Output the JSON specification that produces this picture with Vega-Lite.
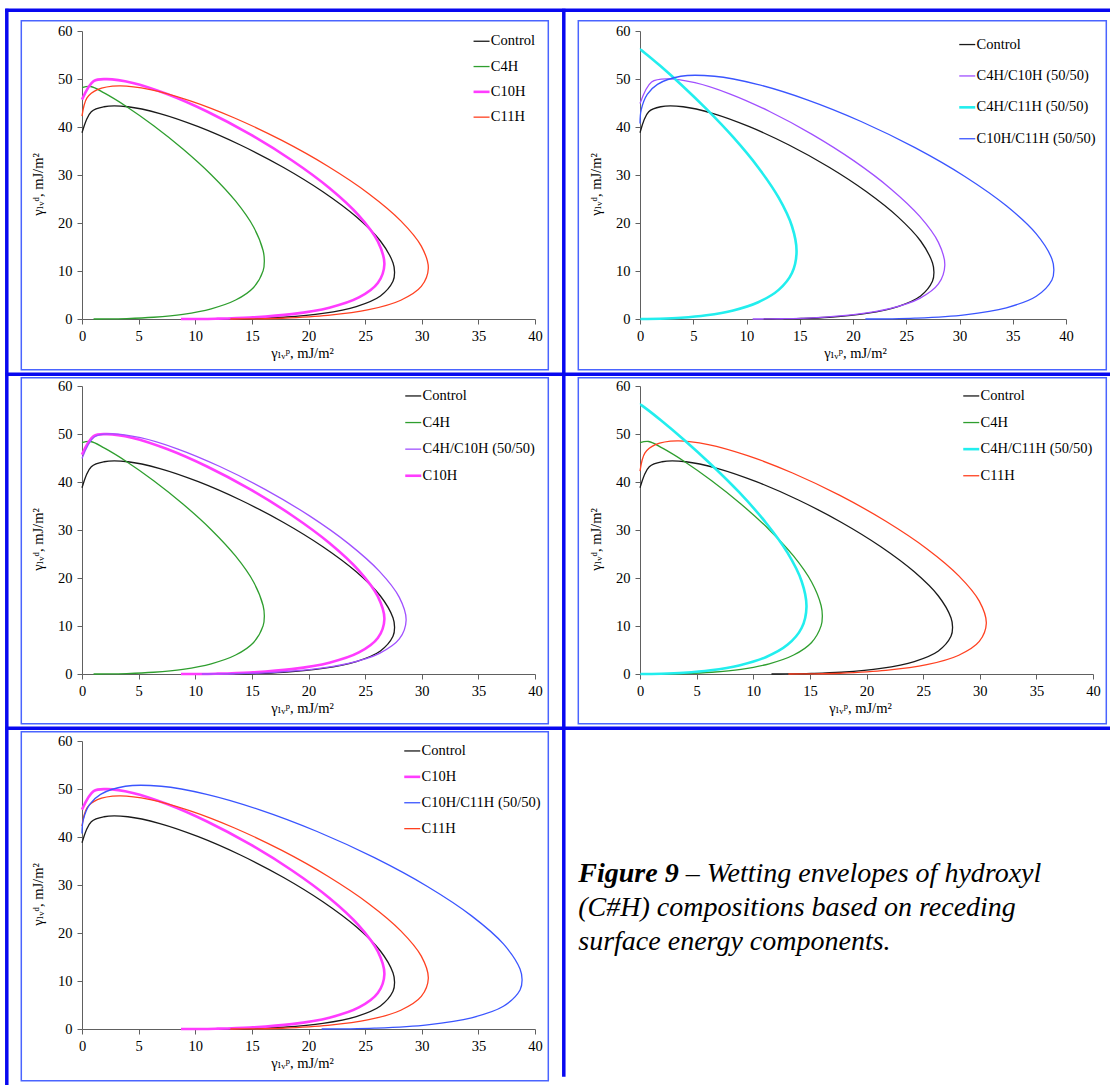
{
  "$schema": "https://vega.github.io/schema/vega-lite/v6.json",
  "background": "white",
  "padding": 0,
  "autosize": {"type": "pad"},
  "datasets": {
    "env": [
      {"s":"Control","i":0,"x":0,"y":38.8},{"s":"Control","i":1,"x":0.82,"y":43.19},{"s":"Control","i":2,"x":1.95,"y":44.22},{"s":"Control","i":3,"x":4.05,"y":44.22},{"s":"Control","i":4,"x":6.88,"y":42.8},{"s":"Control","i":5,"x":10.27,"y":40.07},{"s":"Control","i":6,"x":13.99,"y":36.25},{"s":"Control","i":7,"x":17.76,"y":31.62},{"s":"Control","i":8,"x":21.27,"y":26.51},{"s":"Control","i":9,"x":24.22,"y":21.28},{"s":"Control","i":10,"x":26.35,"y":16.25},{"s":"Control","i":11,"x":27.46,"y":11.71},{"s":"Control","i":12,"x":27.6,"y":9.69},{"s":"Control","i":13,"x":27.46,"y":7.86},{"s":"Control","i":14,"x":26.35,"y":4.81},{"s":"Control","i":15,"x":24.22,"y":2.6},{"s":"Control","i":16,"x":21.27,"y":1.16},{"s":"Control","i":17,"x":17.76,"y":0.36},{"s":"Control","i":18,"x":15.13,"y":0.1},{"s":"Control","i":19,"x":12.85,"y":0.01},{"s":"Control","i":20,"x":11.61,"y":0},
      {"s":"C4H","i":0,"x":0,"y":48.19},{"s":"C4H","i":1,"x":0.76,"y":48.44},{"s":"C4H","i":2,"x":1.99,"y":47.05},{"s":"C4H","i":3,"x":3.95,"y":44.23},{"s":"C4H","i":4,"x":6.33,"y":40.26},{"s":"C4H","i":5,"x":8.91,"y":35.42},{"s":"C4H","i":6,"x":11.41,"y":30.07},{"s":"C4H","i":7,"x":13.57,"y":24.54},{"s":"C4H","i":8,"x":15.15,"y":19.17},{"s":"C4H","i":9,"x":15.99,"y":14.27},{"s":"C4H","i":10,"x":16.1,"y":12.05},{"s":"C4H","i":11,"x":15.99,"y":10.02},{"s":"C4H","i":12,"x":15.15,"y":6.57},{"s":"C4H","i":13,"x":13.57,"y":3.95},{"s":"C4H","i":14,"x":11.41,"y":2.13},{"s":"C4H","i":15,"x":8.91,"y":0.98},{"s":"C4H","i":16,"x":6.33,"y":0.36},{"s":"C4H","i":17,"x":3.95,"y":0.085},{"s":"C4H","i":18,"x":1.99,"y":0.007},{"s":"C4H","i":19,"x":1.02,"y":0},
      {"s":"C10H","i":0,"x":0,"y":45.7},{"s":"C10H","i":1,"x":1.03,"y":49.56},{"s":"C10H","i":2,"x":2.19,"y":49.97},{"s":"C10H","i":3,"x":4.49,"y":49.18},{"s":"C10H","i":4,"x":7.51,"y":46.87},{"s":"C10H","i":5,"x":11.04,"y":43.23},{"s":"C10H","i":6,"x":14.82,"y":38.51},{"s":"C10H","i":7,"x":18.52,"y":33.08},{"s":"C10H","i":8,"x":21.84,"y":27.3},{"s":"C10H","i":9,"x":24.45,"y":21.55},{"s":"C10H","i":10,"x":26.12,"y":16.16},{"s":"C10H","i":11,"x":26.7,"y":11.42},{"s":"C10H","i":12,"x":26.12,"y":7.5},{"s":"C10H","i":13,"x":24.45,"y":4.49},{"s":"C10H","i":14,"x":21.84,"y":2.36},{"s":"C10H","i":15,"x":18.52,"y":1.02},{"s":"C10H","i":16,"x":14.82,"y":0.31},{"s":"C10H","i":17,"x":11.79,"y":0.063},{"s":"C10H","i":18,"x":9.94,"y":0.009},{"s":"C10H","i":19,"x":8.74,"y":0},
      {"s":"C11H","i":0,"x":0,"y":42.25},{"s":"C11H","i":1,"x":0.44,"y":46.08},{"s":"C11H","i":2,"x":1.36,"y":47.8},{"s":"C11H","i":3,"x":3.28,"y":48.58},{"s":"C11H","i":4,"x":6.03,"y":47.8},{"s":"C11H","i":5,"x":9.5,"y":45.5},{"s":"C11H","i":6,"x":13.47,"y":41.88},{"s":"C11H","i":7,"x":17.65,"y":37.2},{"s":"C11H","i":8,"x":21.71,"y":31.82},{"s":"C11H","i":9,"x":25.32,"y":26.11},{"s":"C11H","i":10,"x":28.15,"y":20.45},{"s":"C11H","i":11,"x":29.96,"y":15.18},{"s":"C11H","i":12,"x":30.58,"y":10.56},{"s":"C11H","i":13,"x":29.96,"y":6.78},{"s":"C11H","i":14,"x":28.15,"y":3.91},{"s":"C11H","i":15,"x":25.32,"y":1.93},{"s":"C11H","i":16,"x":21.71,"y":0.74},{"s":"C11H","i":17,"x":17.65,"y":0.16},{"s":"C11H","i":18,"x":15.13,"y":0.028},{"s":"C11H","i":19,"x":13.1,"y":0},
      {"s":"C4H/C10H (50/50)","i":0,"x":0,"y":44.89},{"s":"C4H/C10H (50/50)","i":1,"x":1.09,"y":49.39},{"s":"C4H/C10H (50/50)","i":2,"x":2.64,"y":50.04},{"s":"C4H/C10H (50/50)","i":3,"x":5.16,"y":49.24},{"s":"C4H/C10H (50/50)","i":4,"x":8.41,"y":46.92},{"s":"C4H/C10H (50/50)","i":5,"x":12.17,"y":43.23},{"s":"C4H/C10H (50/50)","i":6,"x":16.16,"y":38.47},{"s":"C4H/C10H (50/50)","i":7,"x":20.06,"y":32.99},{"s":"C4H/C10H (50/50)","i":8,"x":23.53,"y":27.16},{"s":"C4H/C10H (50/50)","i":9,"x":26.27,"y":21.38},{"s":"C4H/C10H (50/50)","i":10,"x":28.02,"y":15.97},{"s":"C4H/C10H (50/50)","i":11,"x":28.62,"y":11.22},{"s":"C4H/C10H (50/50)","i":12,"x":28.02,"y":7.31},{"s":"C4H/C10H (50/50)","i":13,"x":26.27,"y":4.31},{"s":"C4H/C10H (50/50)","i":14,"x":23.53,"y":2.21},{"s":"C4H/C10H (50/50)","i":15,"x":20.06,"y":0.91},{"s":"C4H/C10H (50/50)","i":16,"x":16.16,"y":0.25},{"s":"C4H/C10H (50/50)","i":17,"x":13.35,"y":0.051},{"s":"C4H/C10H (50/50)","i":18,"x":11.39,"y":0.004},{"s":"C4H/C10H (50/50)","i":19,"x":10.58,"y":0},
      {"s":"C4H/C11H (50/50)","i":0,"x":0,"y":56.1},{"s":"C4H/C11H (50/50)","i":1,"x":0.05,"y":56.1},{"s":"C4H/C11H (50/50)","i":2,"x":0.54,"y":55.28},{"s":"C4H/C11H (50/50)","i":3,"x":1.87,"y":52.8},{"s":"C4H/C11H (50/50)","i":4,"x":3.85,"y":48.86},{"s":"C4H/C11H (50/50)","i":5,"x":6.23,"y":43.76},{"s":"C4H/C11H (50/50)","i":6,"x":8.75,"y":37.87},{"s":"C4H/C11H (50/50)","i":7,"x":11.1,"y":31.57},{"s":"C4H/C11H (50/50)","i":8,"x":13.02,"y":25.27},{"s":"C4H/C11H (50/50)","i":9,"x":14.27,"y":19.32},{"s":"C4H/C11H (50/50)","i":10,"x":14.7,"y":14.03},{"s":"C4H/C11H (50/50)","i":11,"x":14.27,"y":9.58},{"s":"C4H/C11H (50/50)","i":12,"x":13.02,"y":6.07},{"s":"C4H/C11H (50/50)","i":13,"x":11.1,"y":3.5},{"s":"C4H/C11H (50/50)","i":14,"x":8.75,"y":1.79},{"s":"C4H/C11H (50/50)","i":15,"x":6.23,"y":0.77},{"s":"C4H/C11H (50/50)","i":16,"x":3.85,"y":0.25},{"s":"C4H/C11H (50/50)","i":17,"x":1.87,"y":0.05},{"s":"C4H/C11H (50/50)","i":18,"x":0.54,"y":0.003},{"s":"C4H/C11H (50/50)","i":19,"x":0.03,"y":0},
      {"s":"C10H/C11H (50/50)","i":0,"x":0,"y":40.75},{"s":"C10H/C11H (50/50)","i":1,"x":0.11,"y":43.55},{"s":"C10H/C11H (50/50)","i":2,"x":0.68,"y":46.78},{"s":"C10H/C11H (50/50)","i":3,"x":1.64,"y":48.89},{"s":"C10H/C11H (50/50)","i":4,"x":3.83,"y":50.57},{"s":"C10H/C11H (50/50)","i":5,"x":6.99,"y":50.57},{"s":"C10H/C11H (50/50)","i":6,"x":11.01,"y":48.89},{"s":"C10H/C11H (50/50)","i":7,"x":15.7,"y":45.66},{"s":"C10H/C11H (50/50)","i":8,"x":20.76,"y":41.15},{"s":"C10H/C11H (50/50)","i":9,"x":25.82,"y":35.69},{"s":"C10H/C11H (50/50)","i":10,"x":30.5,"y":29.69},{"s":"C10H/C11H (50/50)","i":11,"x":34.4,"y":23.57},{"s":"C10H/C11H (50/50)","i":12,"x":37.21,"y":17.72},{"s":"C10H/C11H (50/50)","i":13,"x":38.68,"y":12.5},{"s":"C10H/C11H (50/50)","i":14,"x":38.86,"y":10.19},{"s":"C10H/C11H (50/50)","i":15,"x":38.68,"y":8.12},{"s":"C10H/C11H (50/50)","i":16,"x":37.21,"y":4.73},{"s":"C10H/C11H (50/50)","i":17,"x":34.4,"y":2.34},{"s":"C10H/C11H (50/50)","i":18,"x":30.5,"y":0.88},{"s":"C10H/C11H (50/50)","i":19,"x":25.82,"y":0.17},{"s":"C10H/C11H (50/50)","i":20,"x":23.32,"y":0.032},{"s":"C10H/C11H (50/50)","i":21,"x":21.16,"y":0}
    ]
  },
  "columns": 2,
  "bounds": "flush",
  "spacing": {"row": 67, "column": 105},
  "resolve": {"scale": {"color": "independent"}},
  "concat": [
    {
      "width": 453, "height": 288,
      "layer": [
        {"data": {"values": [{}]}, "mark": {"type": "rect", "fill": "#ffffff", "fillOpacity": 0}, "encoding": {"x": {"value": -81.7}, "x2": {"value": 1028.3}, "y": {"value": -30.3}, "y2": {"value": 1054.7}}},
        {"data": {"values": [{}]}, "mark": {"type": "rule", "color": "#0808f0", "strokeWidth": 3.5}, "encoding": {"x": {"value": -76.7}, "x2": {"value": 1028.3}, "y": {"value": -20.8}}},
        {"data": {"values": [{}]}, "mark": {"type": "rule", "color": "#0808f0", "strokeWidth": 3.5}, "encoding": {"x": {"value": -76.7}, "x2": {"value": 1028.3}, "y": {"value": 343.2}}},
        {"data": {"values": [{}]}, "mark": {"type": "rule", "color": "#0808f0", "strokeWidth": 3.5}, "encoding": {"x": {"value": -76.7}, "x2": {"value": 1028.3}, "y": {"value": 697.2}}},
        {"data": {"values": [{}]}, "mark": {"type": "rule", "color": "#0808f0", "strokeWidth": 3.5}, "encoding": {"x": {"value": -75.2}, "y": {"value": -22.3}, "y2": {"value": 1054.7}}},
        {"data": {"values": [{}]}, "mark": {"type": "rule", "color": "#0808f0", "strokeWidth": 3.5}, "encoding": {"x": {"value": 481.8}, "y": {"value": -22.3}, "y2": {"value": 1045.7}}},
        {"data": {"values": [{}]}, "mark": {"type": "rect", "filled": false, "color": "#4a64ff", "strokeWidth": 1.5}, "encoding": {"x": {"value": -60.7}, "x2": {"value": 466.3}, "y": {"value": -10.3}, "y2": {"value": 338.7}}},
        {
          "data": {"name": "env"},
          "transform": [{"filter": {"field": "s", "oneOf": ["Control", "C4H", "C10H", "C11H"]}}],
          "mark": {"type": "line", "interpolate": "catmull-rom", "strokeJoin": "round"},
          "encoding": {
            "x": {"field": "x", "type": "quantitative", "scale": {"domain": [0, 40], "nice": false}, "axis": {"values": [0,5,10,15,20,25,30,35,40], "title": "γₗᵥᵖ, mJ/m²"}},
            "y": {"field": "y", "type": "quantitative", "scale": {"domain": [0, 60], "nice": false}, "axis": {"values": [0,10,20,30,40,50,60], "title": "γₗᵥᵈ, mJ/m²"}},
            "order": {"field": "i", "type": "quantitative"},
            "color": {"field": "s", "type": "nominal", "scale": {"domain": ["Control", "C4H", "C10H", "C11H"], "range": ["#1a1a1a", "#2e9e2e", "#ff3cff", "#ff4020"]}, "legend": {"legendX": 392.3, "legendY": 3, "rowPadding": 10.3, "encode": {"symbols": {"update": {"strokeWidth": {"signal": "datum.value === 'C10H' || datum.value === 'C4H/C11H (50/50)' ? 2.6 : 1.3"}}}}}},
            "strokeWidth": {"condition": {"test": "datum.s === 'C10H' || datum.s === 'C4H/C11H (50/50)'", "value": 2.6}, "value": 1.3}
          }
        }
      ]
    },
    {
      "width": 426, "height": 288,
      "layer": [
        {"data": {"values": [{}]}, "mark": {"type": "rect", "filled": false, "color": "#4a64ff", "strokeWidth": 1.5}, "encoding": {"x": {"value": -61.7}, "x2": {"value": 466.3}, "y": {"value": -10.3}, "y2": {"value": 338.7}}},
        {
          "data": {"name": "env"},
          "transform": [{"filter": {"field": "s", "oneOf": ["Control", "C4H/C10H (50/50)", "C4H/C11H (50/50)", "C10H/C11H (50/50)"]}}],
          "mark": {"type": "line", "interpolate": "catmull-rom", "strokeJoin": "round"},
          "encoding": {
            "x": {"field": "x", "type": "quantitative", "scale": {"domain": [0, 40], "nice": false}, "axis": {"values": [0,5,10,15,20,25,30,35,40], "title": "γₗᵥᵖ, mJ/m²", "titleX": 215}},
            "y": {"field": "y", "type": "quantitative", "scale": {"domain": [0, 60], "nice": false}, "axis": {"values": [0,10,20,30,40,50,60], "title": "γₗᵥᵈ, mJ/m²"}},
            "order": {"field": "i", "type": "quantitative"},
            "color": {"field": "s", "type": "nominal", "scale": {"domain": ["Control", "C4H/C10H (50/50)", "C4H/C11H (50/50)", "C10H/C11H (50/50)"], "range": ["#1a1a1a", "#a050ff", "#22eeee", "#3a55ff"]}, "legend": {"legendX": 320, "legendY": 6.3, "rowPadding": 16.4, "encode": {"symbols": {"update": {"strokeWidth": {"signal": "datum.value === 'C10H' || datum.value === 'C4H/C11H (50/50)' ? 2.6 : 1.3"}}}}}},
            "strokeWidth": {"condition": {"test": "datum.s === 'C10H' || datum.s === 'C4H/C11H (50/50)'", "value": 2.6}, "value": 1.3}
          }
        }
      ]
    },
    {
      "width": 453, "height": 288,
      "layer": [
        {"data": {"values": [{}]}, "mark": {"type": "rect", "filled": false, "color": "#4a64ff", "strokeWidth": 1.5}, "encoding": {"x": {"value": -60.7}, "x2": {"value": 466.3}, "y": {"value": -8.3}, "y2": {"value": 337.7}}},
        {
          "data": {"name": "env"},
          "transform": [{"filter": {"field": "s", "oneOf": ["Control", "C4H", "C4H/C10H (50/50)", "C10H"]}}],
          "mark": {"type": "line", "interpolate": "catmull-rom", "strokeJoin": "round"},
          "encoding": {
            "x": {"field": "x", "type": "quantitative", "scale": {"domain": [0, 40], "nice": false}, "axis": {"values": [0,5,10,15,20,25,30,35,40], "title": "γₗᵥᵖ, mJ/m²"}},
            "y": {"field": "y", "type": "quantitative", "scale": {"domain": [0, 60], "nice": false}, "axis": {"values": [0,10,20,30,40,50,60], "title": "γₗᵥᵈ, mJ/m²"}},
            "order": {"field": "i", "type": "quantitative"},
            "color": {"field": "s", "type": "nominal", "scale": {"domain": ["Control", "C4H", "C4H/C10H (50/50)", "C10H"], "range": ["#1a1a1a", "#2e9e2e", "#a050ff", "#ff3cff"]}, "legend": {"legendX": 324, "legendY": 2.7, "rowPadding": 11.6, "encode": {"symbols": {"update": {"strokeWidth": {"signal": "datum.value === 'C10H' || datum.value === 'C4H/C11H (50/50)' ? 2.6 : 1.3"}}}}}},
            "strokeWidth": {"condition": {"test": "datum.s === 'C10H' || datum.s === 'C4H/C11H (50/50)'", "value": 2.6}, "value": 1.3}
          }
        }
      ]
    },
    {
      "width": 453, "height": 288,
      "layer": [
        {"data": {"values": [{}]}, "mark": {"type": "rect", "filled": false, "color": "#4a64ff", "strokeWidth": 1.5}, "encoding": {"x": {"value": -61.7}, "x2": {"value": 466.3}, "y": {"value": -8.3}, "y2": {"value": 337.7}}},
        {
          "data": {"name": "env"},
          "transform": [{"filter": {"field": "s", "oneOf": ["Control", "C4H", "C4H/C11H (50/50)", "C11H"]}}],
          "mark": {"type": "line", "interpolate": "catmull-rom", "strokeJoin": "round"},
          "encoding": {
            "x": {"field": "x", "type": "quantitative", "scale": {"domain": [0, 40], "nice": false}, "axis": {"values": [0,5,10,15,20,25,30,35,40], "title": "γₗᵥᵖ, mJ/m²"}},
            "y": {"field": "y", "type": "quantitative", "scale": {"domain": [0, 60], "nice": false}, "axis": {"values": [0,10,20,30,40,50,60], "title": "γₗᵥᵈ, mJ/m²"}},
            "order": {"field": "i", "type": "quantitative"},
            "color": {"field": "s", "type": "nominal", "scale": {"domain": ["Control", "C4H", "C4H/C11H (50/50)", "C11H"], "range": ["#1a1a1a", "#2e9e2e", "#22eeee", "#ff4020"]}, "legend": {"legendX": 324, "legendY": 2.7, "rowPadding": 11.6, "encode": {"symbols": {"update": {"strokeWidth": {"signal": "datum.value === 'C10H' || datum.value === 'C4H/C11H (50/50)' ? 2.6 : 1.3"}}}}}},
            "strokeWidth": {"condition": {"test": "datum.s === 'C10H' || datum.s === 'C4H/C11H (50/50)'", "value": 2.6}, "value": 1.3}
          }
        }
      ]
    },
    {
      "width": 453, "height": 288,
      "layer": [
        {"data": {"values": [{}]}, "mark": {"type": "rect", "filled": false, "color": "#4a64ff", "strokeWidth": 1.5}, "encoding": {"x": {"value": -60.7}, "x2": {"value": 466.3}, "y": {"value": -9.3}, "y2": {"value": 339.7}}},
        {
          "data": {"name": "env"},
          "transform": [{"filter": {"field": "s", "oneOf": ["Control", "C10H", "C10H/C11H (50/50)", "C11H"]}}],
          "mark": {"type": "line", "interpolate": "catmull-rom", "strokeJoin": "round"},
          "encoding": {
            "x": {"field": "x", "type": "quantitative", "scale": {"domain": [0, 40], "nice": false}, "axis": {"values": [0,5,10,15,20,25,30,35,40], "title": "γₗᵥᵖ, mJ/m²"}},
            "y": {"field": "y", "type": "quantitative", "scale": {"domain": [0, 60], "nice": false}, "axis": {"values": [0,10,20,30,40,50,60], "title": "γₗᵥᵈ, mJ/m²"}},
            "order": {"field": "i", "type": "quantitative"},
            "color": {"field": "s", "type": "nominal", "scale": {"domain": ["Control", "C10H", "C10H/C11H (50/50)", "C11H"], "range": ["#1a1a1a", "#ff3cff", "#3a55ff", "#ff4020"]}, "legend": {"legendX": 323, "legendY": 2.7, "rowPadding": 10.9, "encode": {"symbols": {"update": {"strokeWidth": {"signal": "datum.value === 'C10H' || datum.value === 'C4H/C11H (50/50)' ? 2.6 : 1.3"}}}}}},
            "strokeWidth": {"condition": {"test": "datum.s === 'C10H' || datum.s === 'C4H/C11H (50/50)'", "value": 2.6}, "value": 1.3}
          }
        }
      ]
    },
    {
      "width": 453, "height": 288,
      "data": {"values": [{}]},
      "layer": [
        {"mark": {"type": "text", "font": "Liberation Serif", "fontSize": 28, "fontStyle": "italic", "fontWeight": "bold", "align": "left", "baseline": "alphabetic", "color": "#000"}, "encoding": {"text": {"value": "Figure 9"}, "x": {"value": -61.7}, "y": {"value": 140.7}}},
        {"mark": {"type": "text", "font": "Liberation Serif", "fontSize": 28, "fontStyle": "italic", "align": "left", "baseline": "alphabetic", "color": "#000"}, "encoding": {"text": {"value": "– Wetting envelopes of hydroxyl"}, "x": {"value": 45.7}, "y": {"value": 140.7}}},
        {"mark": {"type": "text", "font": "Liberation Serif", "fontSize": 28, "fontStyle": "italic", "align": "left", "baseline": "alphabetic", "color": "#000"}, "encoding": {"text": {"value": "(C#H) compositions based on receding"}, "x": {"value": -61.7}, "y": {"value": 174.7}}},
        {"mark": {"type": "text", "font": "Liberation Serif", "fontSize": 28, "fontStyle": "italic", "align": "left", "baseline": "alphabetic", "color": "#000"}, "encoding": {"text": {"value": "surface energy components."}, "x": {"value": -61.7}, "y": {"value": 208.7}}}
      ]
    }
  ],
  "config": {
    "view": {"stroke": null},
    "axis": {"zindex": 1, "labelFont": "Liberation Serif, DejaVu Serif", "labelFontSize": 14.5, "labelColor": "#000", "titleFont": "Liberation Serif, DejaVu Serif", "titleFontSize": 14.5, "titleFontWeight": "normal", "titleColor": "#000", "domainColor": "#606060", "tickColor": "#606060", "domainWidth": 1, "tickWidth": 1, "tickSize": 5, "grid": false, "labelFlush": false},
    "axisX": {"labelPadding": 5, "titleX": 220, "titleY": 38.7, "titleBaseline": "alphabetic", "titleAlign": "center"},
    "axisY": {"labelPadding": 5, "titleX": -40, "titleY": 153, "titleBaseline": "alphabetic", "titleAlign": "center"},
    "legend": {"orient": "none", "title": null, "symbolType": "stroke", "symbolSize": 256, "labelOffset": 2, "padding": 0, "labelFont": "Liberation Serif", "labelFontSize": 14.5, "labelColor": "#000", "symbolStrokeWidth": 1.3, "zindex": 1}
  }
}
